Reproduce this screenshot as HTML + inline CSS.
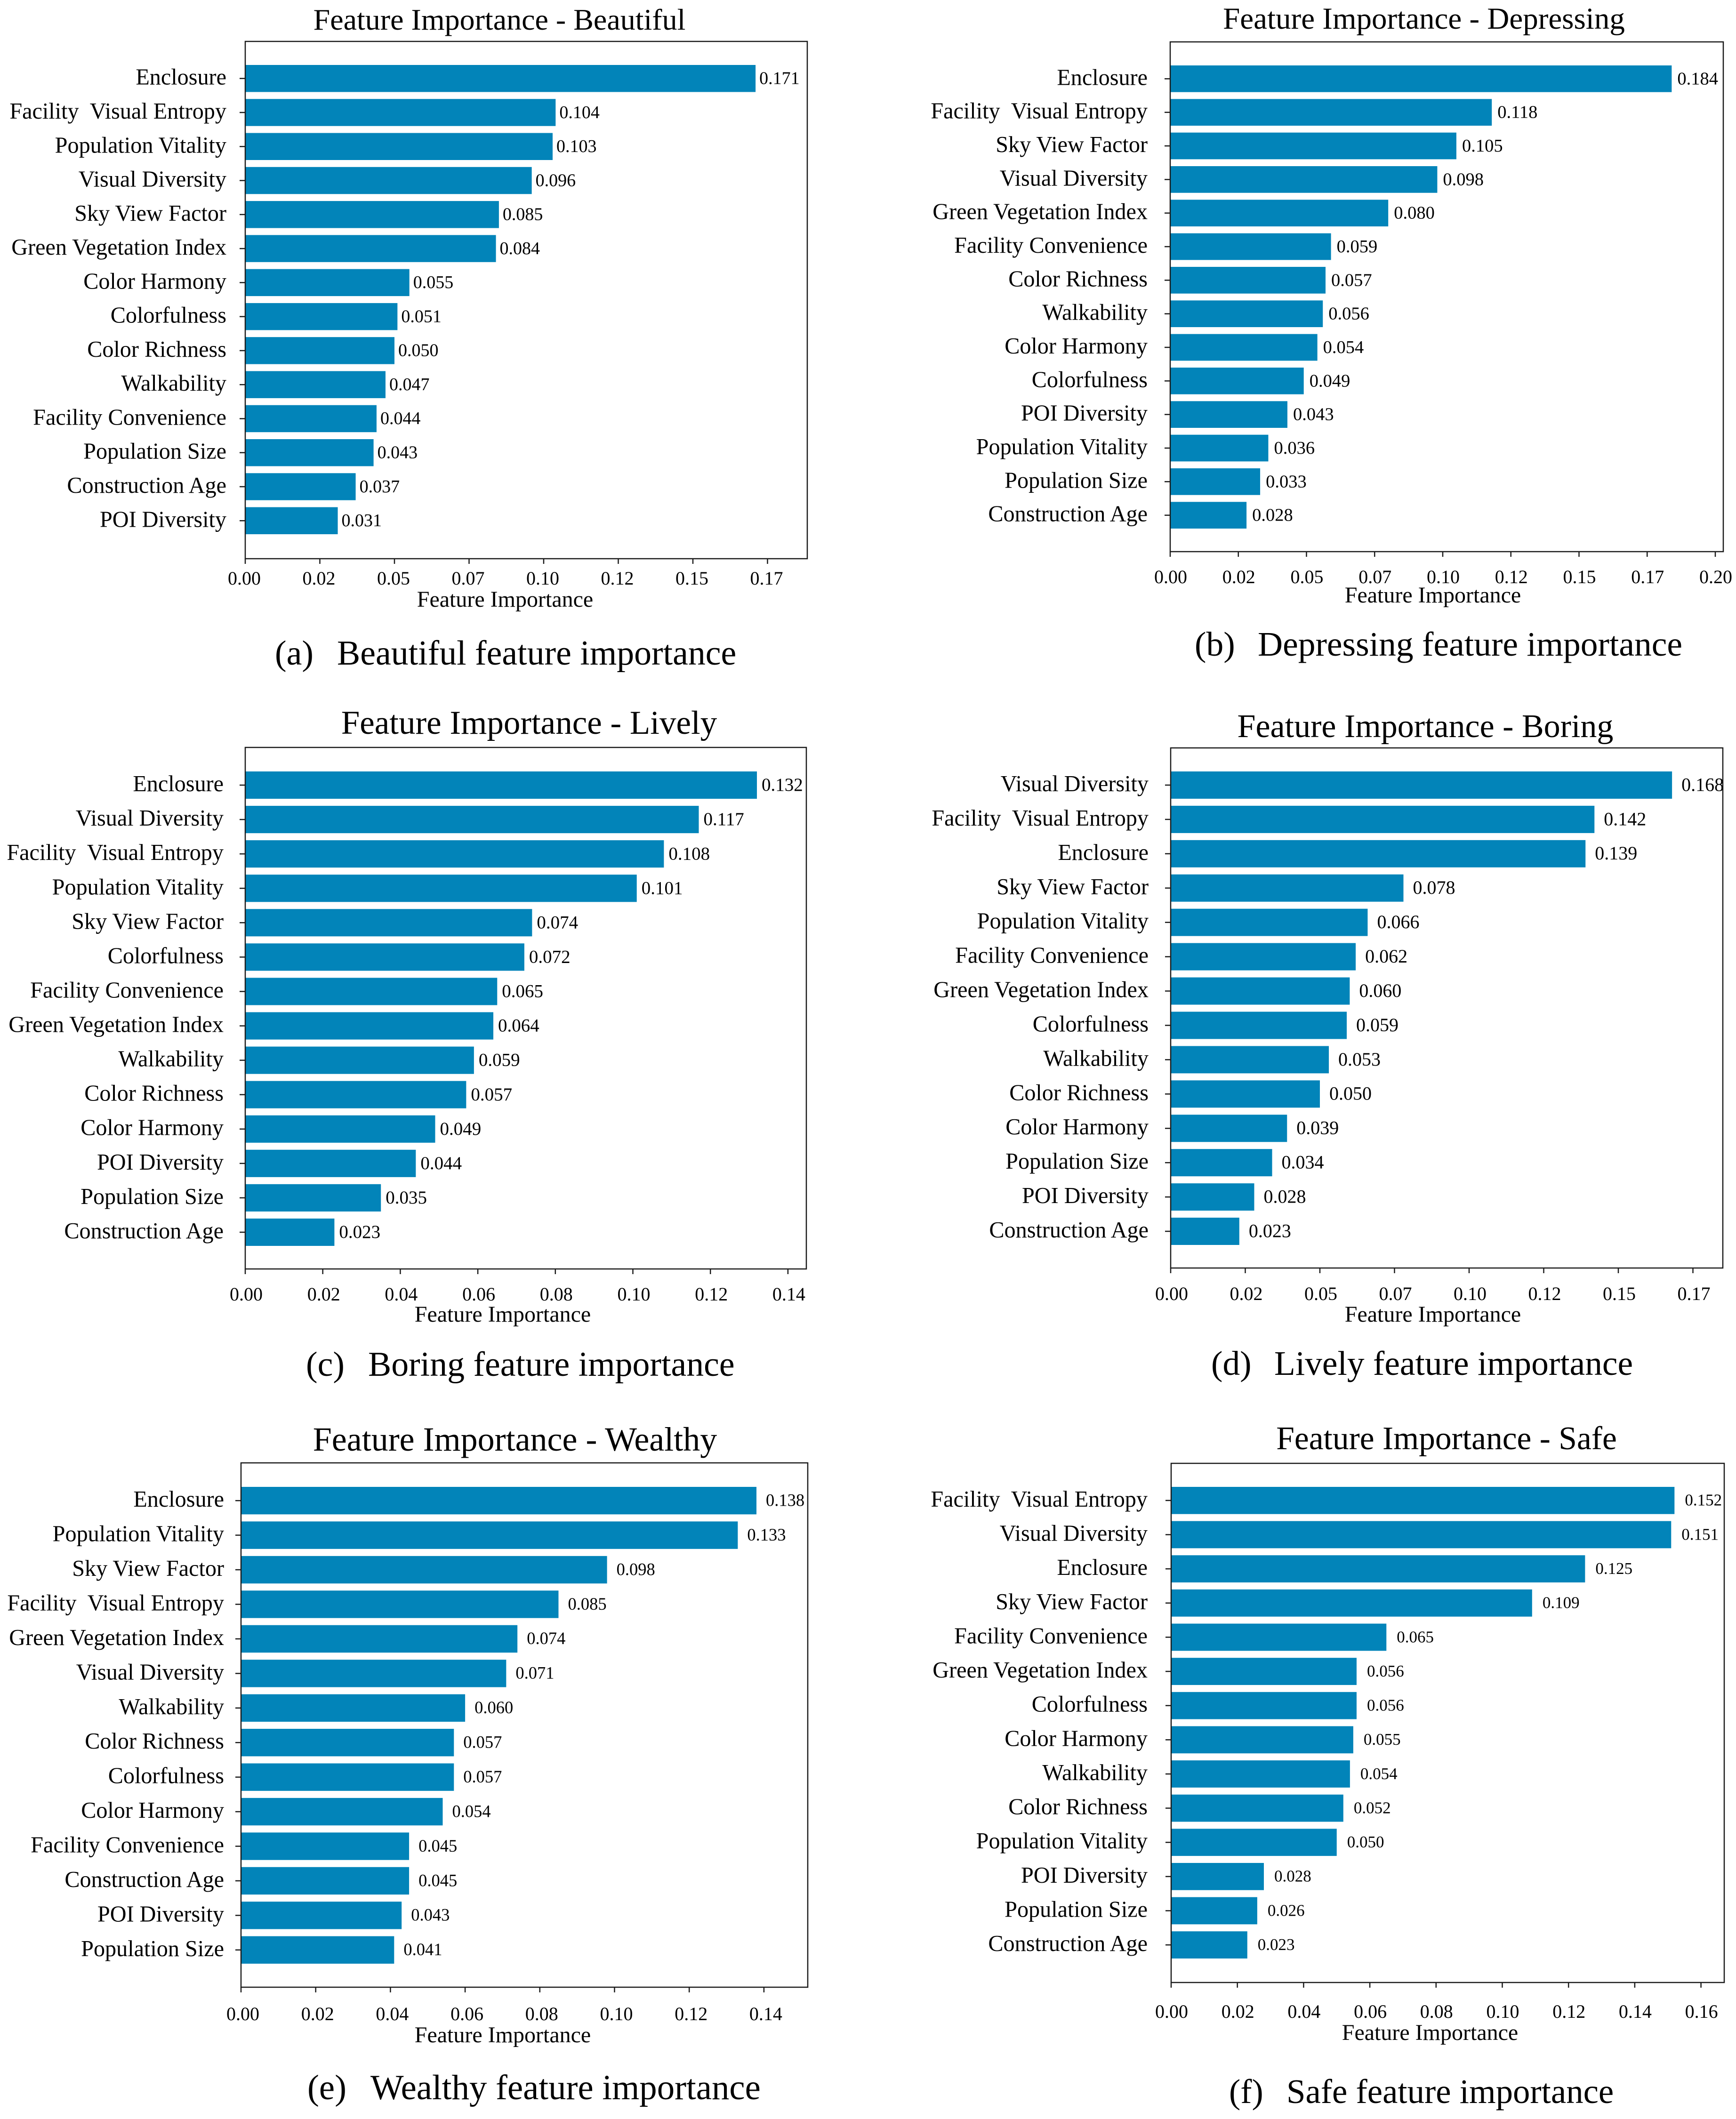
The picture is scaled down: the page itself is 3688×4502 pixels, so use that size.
<!DOCTYPE html>
<html lang="en">
<head>
<meta charset="utf-8">
<title>Feature importance charts</title>
<style>
  html, body { margin: 0; padding: 0; background: #fff; width: 3688px; height: 4502px; overflow: hidden; }
  svg { display: block; }
  text { font-family: "Liberation Serif", "Times New Roman", serif; fill: #000; }
  .title { text-anchor: middle; }
  .xtitle { font-size: 48px; text-anchor: middle; }
</style>
</head>
<body>
<svg id="figure" width="3688" height="4502" viewBox="0 0 3688 4502" xmlns="http://www.w3.org/2000/svg">
  <rect x="0" y="0" width="3688" height="4502" fill="#ffffff"/>

  <g id="panel-a">
    <text class="title" font-size="64" x="1061" y="63">Feature Importance - Beautiful</text>
    <text class="xtitle" x="1073" y="1289">Feature Importance</text>
    <text font-size="73.8" x="584" y="1412">(a)</text>
    <text font-size="73.8" x="716" y="1412">Beautiful feature importance</text>
  </g>

  <g id="panel-b">
    <text class="title" font-size="65" x="3025" y="61">Feature Importance - Depressing</text>
    <text class="xtitle" x="3044" y="1280">Feature Importance</text>
    <text font-size="73.5" x="2538" y="1393">(b)</text>
    <text font-size="73.5" x="2672" y="1393">Depressing feature importance</text>
  </g>

  <g id="panel-c">
    <text class="title" font-size="71" x="1124" y="1559">Feature Importance - Lively</text>
    <text class="xtitle" x="1068" y="2808">Feature Importance</text>
    <text font-size="73.8" x="650" y="2923">(c)</text>
    <text font-size="73.8" x="782" y="2923">Boring feature importance</text>
  </g>

  <g id="panel-d">
    <text class="title" font-size="70" x="3028" y="1566">Feature Importance - Boring</text>
    <text class="xtitle" x="3044" y="2808">Feature Importance</text>
    <text font-size="73.4" x="2573" y="2921">(d)</text>
    <text font-size="73.4" x="2707" y="2921">Lively feature importance</text>
  </g>

  <g id="panel-e">
    <text class="title" font-size="72" x="1094" y="3082">Feature Importance - Wealthy</text>
    <text class="xtitle" x="1068" y="4339">Feature Importance</text>
    <text font-size="74.8" x="653" y="4460">(e)</text>
    <text font-size="74.8" x="787" y="4460">Wealthy feature importance</text>
  </g>

  <g id="panel-f">
    <text class="title" font-size="69.5" x="3073" y="3079">Feature Importance - Safe</text>
    <text class="xtitle" x="3038" y="4334">Feature Importance</text>
    <text font-size="72.8" x="2611" y="4468">(f)</text>
    <text font-size="72.8" x="2733" y="4468">Safe feature importance</text>
  </g>
</svg>

<script>
const beautifulCategories = ["Enclosure", "Facility\u00a0 Visual Entropy", "Population Vitality", "Visual Diversity", "Sky View Factor", "Green Vegetation Index", "Color Harmony", "Colorfulness", "Color Richness", "Walkability", "Facility Convenience", "Population Size", "Construction Age", "POI Diversity"];
const beautifulValues = [0.171, 0.104, 0.103, 0.096, 0.085, 0.084, 0.055, 0.051, 0.050, 0.047, 0.044, 0.043, 0.037, 0.031];

const depressingCategories = ["Enclosure", "Facility\u00a0 Visual Entropy", "Sky View Factor", "Visual Diversity", "Green Vegetation Index", "Facility Convenience", "Color Richness", "Walkability", "Color Harmony", "Colorfulness", "POI Diversity", "Population Vitality", "Population Size", "Construction Age"];
const depressingValues = [0.184, 0.118, 0.105, 0.098, 0.080, 0.059, 0.057, 0.056, 0.054, 0.049, 0.043, 0.036, 0.033, 0.028];

const livelyCategories = ["Enclosure", "Visual Diversity", "Facility\u00a0 Visual Entropy", "Population Vitality", "Sky View Factor", "Colorfulness", "Facility Convenience", "Green Vegetation Index", "Walkability", "Color Richness", "Color Harmony", "POI Diversity", "Population Size", "Construction Age"];
const livelyValues = [0.132, 0.117, 0.108, 0.101, 0.074, 0.072, 0.065, 0.064, 0.059, 0.057, 0.049, 0.044, 0.035, 0.023];

const boringCategories = ["Visual Diversity", "Facility\u00a0 Visual Entropy", "Enclosure", "Sky View Factor", "Population Vitality", "Facility Convenience", "Green Vegetation Index", "Colorfulness", "Walkability", "Color Richness", "Color Harmony", "Population Size", "POI Diversity", "Construction Age"];
const boringValues = [0.168, 0.142, 0.139, 0.078, 0.066, 0.062, 0.060, 0.059, 0.053, 0.050, 0.039, 0.034, 0.028, 0.023];

const wealthyCategories = ["Enclosure", "Population Vitality", "Sky View Factor", "Facility\u00a0 Visual Entropy", "Green Vegetation Index", "Visual Diversity", "Walkability", "Color Richness", "Colorfulness", "Color Harmony", "Facility Convenience", "Construction Age", "POI Diversity", "Population Size"];
const wealthyValues = [0.138, 0.133, 0.098, 0.085, 0.074, 0.071, 0.060, 0.057, 0.057, 0.054, 0.045, 0.045, 0.043, 0.041];

const safeCategories = ["Facility\u00a0 Visual Entropy", "Visual Diversity", "Enclosure", "Sky View Factor", "Facility Convenience", "Green Vegetation Index", "Colorfulness", "Color Harmony", "Walkability", "Color Richness", "Population Vitality", "POI Diversity", "Population Size", "Construction Age"];
const safeValues = [0.152, 0.151, 0.125, 0.109, 0.065, 0.056, 0.056, 0.055, 0.054, 0.052, 0.050, 0.028, 0.026, 0.023];

const quarterTicks = [0, 0.025, 0.05, 0.075, 0.1, 0.125, 0.15, 0.175];
const quarterTickLabels = ["0.00", "0.02", "0.05", "0.07", "0.10", "0.12", "0.15", "0.17"];
const depressingTicks = [0, 0.025, 0.05, 0.075, 0.1, 0.125, 0.15, 0.175, 0.2];
const depressingTickLabels = ["0.00", "0.02", "0.05", "0.07", "0.10", "0.12", "0.15", "0.17", "0.20"];
const evenTicks = [0, 0.02, 0.04, 0.06, 0.08, 0.1, 0.12, 0.14];
const evenTickLabels = ["0.00", "0.02", "0.04", "0.06", "0.08", "0.10", "0.12", "0.14"];
const safeTicks = [0, 0.02, 0.04, 0.06, 0.08, 0.1, 0.12, 0.14, 0.16];
const safeTickLabels = ["0.00", "0.02", "0.04", "0.06", "0.08", "0.10", "0.12", "0.14", "0.16"];

const SVG_NS = "http://www.w3.org/2000/svg";
const BAR_COLOR = "#0284b9";
const LINE_COLOR = "#1a1a1a";

function svgNode(tag, attrs, parent, content) {
  const node = document.createElementNS(SVG_NS, tag);
  Object.keys(attrs).forEach(function (k) { node.setAttribute(k, attrs[k]); });
  if (content !== undefined) node.textContent = content;
  parent.appendChild(node);
  return node;
}

function drawPanel(cfg) {
  const group = document.getElementById(cfg.id);
  const barSpan = cfg.lastBottom - cfg.firstTop;
  const step = barSpan / (cfg.categories.length - 1 + 0.795);
  const barHeight = step * 0.795;
  const xScale = function (v) { return cfg.left + v * cfg.unit; };
  const yCenter = function (i) { return cfg.firstTop + barHeight / 2 + i * step; };

  cfg.values.forEach(function (value, i) {
    const bar = svgNode("rect", {
      x: xScale(0),
      y: yCenter(i) - barHeight / 2,
      width: xScale(value) - xScale(0),
      height: barHeight,
      fill: BAR_COLOR
    }, group);
    
    

    const valueLabel = svgNode("text", {
      x: xScale(value) + cfg.valueGap,
      y: yCenter(i) + cfg.valueSize * 0.31,
      "font-size": cfg.valueSize
    }, group, value.toFixed(3));
    
    

    const yTick = svgNode("line", {
      x1: cfg.left - 12,
      x2: cfg.left,
      y1: yCenter(i),
      y2: yCenter(i),
      stroke: LINE_COLOR,
      "stroke-width": 2.5
    }, group);
    
    

    const yLabel = svgNode("text", {
      x: cfg.labelRight,
      y: yCenter(i) + 13,
      "font-size": 48.2,
      "text-anchor": "end"
    }, group, cfg.categories[i]);
    
    
  });

  const frame = svgNode("rect", {
    x: cfg.left,
    y: cfg.top,
    width: cfg.right - cfg.left,
    height: cfg.bottom - cfg.top,
    fill: "none",
    stroke: LINE_COLOR,
    "stroke-width": 2.5
  }, group);
  
  

  cfg.ticks.forEach(function (tickValue, i) {
    const xTick = svgNode("line", {
      x1: xScale(tickValue),
      x2: xScale(tickValue),
      y1: cfg.bottom,
      y2: cfg.bottom + 11,
      stroke: LINE_COLOR,
      "stroke-width": 2.5
    }, group);
    
    

    const xLabel = svgNode("text", {
      x: xScale(tickValue) + cfg.tickLabelShift,
      y: cfg.tickBaseline,
      "font-size": 40,
      "text-anchor": "middle"
    }, group, cfg.tickLabels[i]);
    
    
  });
}

drawPanel({ id: "panel-a", categories: beautifulCategories, values: beautifulValues, ticks: quarterTicks, tickLabels: quarterTickLabels,
  left: 521, right: 1715, top: 88, bottom: 1187, firstTop: 138, lastBottom: 1135, unit: 6340,
  labelRight: 481, valueGap: 8, valueSize: 38, tickBaseline: 1242, tickLabelShift: -2 });

drawPanel({ id: "panel-b", categories: depressingCategories, values: depressingValues, ticks: depressingTicks, tickLabels: depressingTickLabels,
  left: 2486, right: 3661, top: 89, bottom: 1172, firstTop: 139, lastBottom: 1123, unit: 5790,
  labelRight: 2438, valueGap: 12, valueSize: 38.5, tickBaseline: 1239, tickLabelShift: 1 });

drawPanel({ id: "panel-c", categories: livelyCategories, values: livelyValues, ticks: evenTicks, tickLabels: evenTickLabels,
  left: 521, right: 1713, top: 1588, bottom: 2696, firstTop: 1639, lastBottom: 2647, unit: 8235,
  labelRight: 475, valueGap: 10, valueSize: 39, tickBaseline: 2763, tickLabelShift: 2 });

drawPanel({ id: "panel-d", categories: boringCategories, values: boringValues, ticks: quarterTicks, tickLabels: quarterTickLabels,
  left: 2487, right: 3660, top: 1589, bottom: 2694, firstTop: 1639, lastBottom: 2645, unit: 6340,
  labelRight: 2440, valueGap: 20, valueSize: 40, tickBaseline: 2762, tickLabelShift: 2 });

drawPanel({ id: "panel-e", categories: wealthyCategories, values: wealthyValues, ticks: evenTicks, tickLabels: evenTickLabels,
  left: 512, right: 1716, top: 3108, bottom: 4222, firstTop: 3159, lastBottom: 4172, unit: 7935,
  labelRight: 476, valueGap: 20, valueSize: 36.5, tickBaseline: 4292, tickLabelShift: 4 });

drawPanel({ id: "panel-f", categories: safeCategories, values: safeValues, ticks: safeTicks, tickLabels: safeTickLabels,
  left: 2488, right: 3663, top: 3109, bottom: 4212, firstTop: 3159, lastBottom: 4161, unit: 7035,
  labelRight: 2438, valueGap: 22, valueSize: 35, tickBaseline: 4287, tickLabelShift: 1 });
</script>
</body>
</html>
